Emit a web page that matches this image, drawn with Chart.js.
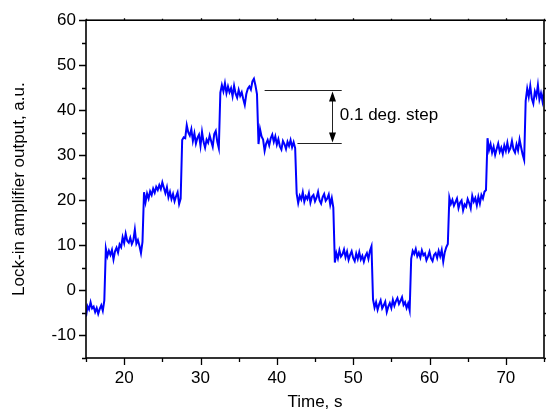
<!DOCTYPE html>
<html>
<head>
<meta charset="utf-8">
<script src="https://cdn.jsdelivr.net/npm/chart.js@4"></script>
<style>
  html, body { margin: 0; padding: 0; background: #fff; }
  #wrap { width: 546px; height: 411px; position: relative; }
</style>
</head>
<body>
<div id="wrap"><canvas id="chart"></canvas></div>
<script>
// tick labels of the axes
const xTicks = [20, 30, 40, 50, 60, 70];
const yTicks = [-10, 0, 10, 20, 30, 40, 50, 60];
const xMinorTicks = [15, 25, 35, 45, 55, 65, 75];
const yMinorTicks = [-15, -5, 5, 15, 25, 35, 45, 55];

// the signal is sampled every 0.2 s, one array per plateau (start time in segStarts)
const sampleStep = 0.2;
const segStarts = [15, 17.6, 22.6, 27.6, 32.6, 37.6, 42.6, 47.6, 52.6, 57.6, 62.6, 67.6, 72.6];

const seg0 = [-5.8, -3.5, -4.2, -2.6, -4.0, -3.6, -4.8, -3.9, -5.2, -4.1, -3.3, -4.5, -2.2];
const seg1 = [9.3, 7.6, 8.8, 7.9, 9.0, 6.9, 8.7, 9.5, 8.4, 10.2, 9.6, 11.8, 10.5, 12.6, 11.0, 10.6, 11.7, 10.3, 11.1, 13.5, 10.4, 11.2, 9.9, 8.3, 10.8];
const seg2 = [21.8, 19.6, 21.5, 20.4, 22.0, 21.2, 22.6, 21.7, 23.0, 22.3, 23.4, 22.5, 24.0, 22.8, 21.6, 22.9, 20.7, 21.9, 20.3, 21.4, 19.8, 20.9, 21.8, 19.2, 20.4];
const seg3 = [33.4, 34.0, 33.8, 36.7, 35.1, 34.4, 35.8, 33.2, 34.9, 32.6, 33.9, 34.6, 32.1, 35.2, 33.0, 31.7, 33.5, 32.8, 34.4, 33.1, 31.9, 34.7, 35.4, 33.0, 31.6];
const seg4 = [43.9, 45.6, 44.2, 46.0, 43.8, 45.3, 44.0, 44.9, 43.1, 45.4, 43.7, 42.8, 44.5, 43.2, 44.0, 42.5, 41.2, 43.6, 44.8, 45.3, 44.6, 46.4, 47.0, 45.5, 43.6];
const seg5 = [32.5, 35.8, 34.2, 33.5, 31.0, 32.6, 33.4, 32.2, 33.8, 34.6, 33.0, 34.2, 32.4, 33.6, 32.0, 31.3, 33.2, 32.5, 31.4, 33.0, 32.1, 33.4, 31.8, 32.9, 31.6];
const seg6 = [21.5, 19.4, 21.0, 20.2, 21.8, 19.7, 20.9, 20.3, 21.6, 19.5, 20.8, 21.2, 19.8, 20.6, 21.9, 20.0, 19.3, 20.7, 21.4, 19.9, 20.4, 21.3, 19.0, 20.5, 18.4];
const seg7 = [6.2, 8.3, 7.1, 8.9, 7.5, 8.0, 9.1, 7.4, 8.6, 6.8, 7.9, 8.7, 7.2, 6.5, 8.2, 7.0, 8.5, 6.9, 7.7, 6.4, 7.6, 8.3, 7.0, 8.8, 9.8];
const seg8 = [-2.0, -3.8, -2.6, -4.3, -3.1, -2.2, -4.0, -3.3, -2.5, -4.8, -3.6, -2.8, -3.9, -2.1, -3.4, -2.4, -1.7, -3.0, -2.3, -1.5, -3.2, -2.6, -3.9, -2.9, -4.4];
const seg9 = [7.0, 8.8, 8.1, 9.2, 7.6, 8.4, 7.3, 8.9, 7.8, 8.2, 6.7, 7.5, 8.6, 7.1, 6.5, 7.9, 8.3, 7.2, 8.8, 7.6, 9.0, 6.4, 8.5, 9.6, 10.3];
const seg10 = [20.6, 19.2, 20.1, 18.8, 19.6, 20.4, 18.3, 19.5, 20.0, 17.8, 19.1, 18.6, 20.3, 19.4, 18.2, 21.0, 19.7, 20.5, 18.9, 20.8, 19.3, 21.2, 20.4, 21.9, 22.3];
const seg11 = [33.8, 31.2, 32.5, 30.6, 31.9, 30.1, 31.4, 32.6, 30.8, 31.7, 30.3, 32.2, 31.0, 32.8, 30.9, 31.6, 33.2, 31.3, 30.6, 32.4, 31.1, 33.5, 31.8, 30.2, 29.0];
const seg12 = [42.1, 44.8, 43.0, 45.4, 42.6, 41.5, 44.2, 43.1, 45.6, 42.4, 43.8, 42.0, 44.5];

const segments = [seg0, seg1, seg2, seg3, seg4, seg5, seg6, seg7, seg8, seg9, seg10, seg11, seg12];

// annotation: levels of the two marker lines and where they start / end (data units)
const markUpper = { y: 44.6, x0: 38.4, x1: 48.5 };
const markLower = { y: 32.7, x0: 42.7, x1: 48.5 };
const arrowX = 47.2;
const noteText = '0.1 deg. step';
const noteAt = { x: 48.25, y: 38.9 };

// build points
const points = [];
segments.forEach((seg, i) => {
    seg.forEach((v, k) => {
        points.push({ x: +(segStarts[i] + k * sampleStep).toFixed(2), y: v });
    });
});

const FONT = 'Liberation Sans, Arial, Helvetica, sans-serif';
const FSIZE = 17;

// frame, outward ticks and the annotation
const framePlugin = {
    id: 'framePlugin',
    afterDraw(chart) {
        const ctx = chart.ctx;
        const a = chart.chartArea;
        const xs = chart.scales.x;
        const ys = chart.scales.y;
        ctx.save();

        // ticks
        ctx.strokeStyle = '#000';
        ctx.lineWidth = 1.3;
        ctx.beginPath();
        xTicks.forEach(v => {
            const px = Math.round(xs.getPixelForValue(v)) + 0.5;
            ctx.moveTo(px, a.bottom); ctx.lineTo(px, a.bottom + 7);
            ctx.moveTo(px, a.top); ctx.lineTo(px, a.top - 2);
        });
        xMinorTicks.forEach(v => {
            const px = Math.round(xs.getPixelForValue(v)) + 0.5;
            ctx.moveTo(px, a.bottom); ctx.lineTo(px, a.bottom + 4);
            ctx.moveTo(px, a.top); ctx.lineTo(px, a.top - 1.5);
        });
        yTicks.forEach(v => {
            const py = Math.round(ys.getPixelForValue(v)) + 0.5;
            ctx.moveTo(a.left, py); ctx.lineTo(a.left - 7, py);
            ctx.moveTo(a.right, py); ctx.lineTo(a.right + 3, py);
        });
        yMinorTicks.forEach(v => {
            const py = Math.round(ys.getPixelForValue(v)) + 0.5;
            ctx.moveTo(a.left, py); ctx.lineTo(a.left - 4, py);
            ctx.moveTo(a.right, py); ctx.lineTo(a.right + 2, py);
        });
        ctx.stroke();

        // frame
        ctx.lineWidth = 1.6;
        ctx.strokeRect(a.left, a.top, a.right - a.left, a.bottom - a.top);

        // annotation lines
        ctx.strokeStyle = '#222';
        ctx.lineWidth = 1;
        ctx.beginPath();
        const uy = Math.round(ys.getPixelForValue(markUpper.y)) + 0.5;
        const ly = Math.round(ys.getPixelForValue(markLower.y)) + 0.5;
        ctx.moveTo(xs.getPixelForValue(markUpper.x0), uy);
        ctx.lineTo(xs.getPixelForValue(markUpper.x1), uy);
        ctx.moveTo(xs.getPixelForValue(markLower.x0), ly);
        ctx.lineTo(xs.getPixelForValue(markLower.x1), ly);
        const ax = Math.round(xs.getPixelForValue(arrowX)) + 0.5;
        ctx.moveTo(ax, uy + 6);
        ctx.lineTo(ax, ly - 6);
        ctx.stroke();

        // arrow heads
        ctx.fillStyle = '#000';
        ctx.beginPath();
        ctx.moveTo(ax, uy + 1); ctx.lineTo(ax - 3.5, uy + 11); ctx.lineTo(ax + 3.5, uy + 11); ctx.closePath();
        ctx.moveTo(ax, ly - 1); ctx.lineTo(ax - 3.5, ly - 11); ctx.lineTo(ax + 3.5, ly - 11); ctx.closePath();
        ctx.fill();

        // note
        ctx.font = FSIZE + 'px ' + FONT;
        ctx.textAlign = 'left';
        ctx.textBaseline = 'middle';
        ctx.fillText(noteText, xs.getPixelForValue(noteAt.x), ys.getPixelForValue(noteAt.y));

        ctx.restore();
    }
};

new Chart(document.getElementById('chart'), {
    type: 'scatter',
    data: {
        datasets: [{
            data: points,
            showLine: true,
            borderColor: '#0000ff',
            borderWidth: 2,
            pointRadius: 0,
            tension: 0
        }]
    },
    options: {
        responsive: true,
        maintainAspectRatio: false,
        animation: false,
        events: [],
        layout: { padding: { left: 0, right: 2, top: 18, bottom: 0 } },
        plugins: {
            legend: { display: false },
            tooltip: { enabled: false }
        },
        scales: {
            x: {
                type: 'linear',
                min: 15,
                max: 75,
                afterBuildTicks: s => { s.ticks = xTicks.map(v => ({ value: v })); },
                afterFit: s => { s.height = 53; },
                grid: { display: false, drawTicks: false },
                border: { display: false },
                ticks: { color: '#000', font: { family: FONT, size: FSIZE }, padding: 10, maxRotation: 0 },
                title: { display: true, text: 'Time, s', color: '#000', font: { family: FONT, size: FSIZE }, padding: { top: 0, bottom: -2 } }
            },
            y: {
                type: 'linear',
                min: -15,
                max: 60,
                afterBuildTicks: s => { s.ticks = yTicks.map(v => ({ value: v })); },
                afterFit: s => { s.width = 86; },
                grid: { display: false, drawTicks: false },
                border: { display: false },
                ticks: { color: '#000', font: { family: FONT, size: FSIZE }, padding: 10 },
                title: { display: true, text: 'Lock-in amplifier output, a.u.', color: '#000', font: { family: FONT, size: FSIZE }, padding: { top: 9, bottom: 0 } }
            }
        }
    },
    plugins: [framePlugin]
});
</script>
</body>
</html>
